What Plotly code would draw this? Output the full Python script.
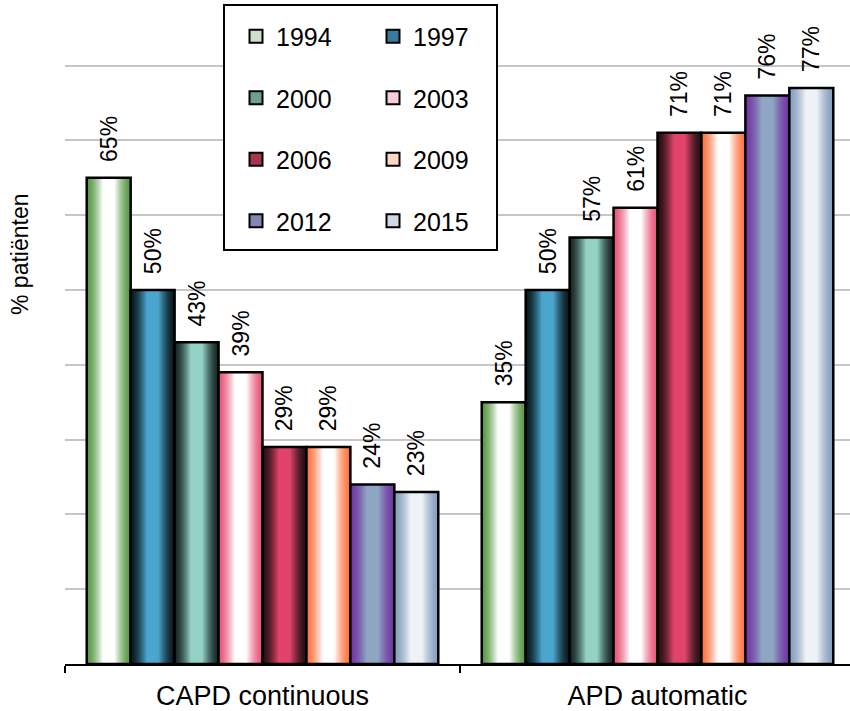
import plotly.graph_objects as go

# ---- data ----
categories = ["CAPD continuous", "APD automatic"]
years = ["1994", "1997", "2000", "2003", "2006", "2009", "2012", "2015"]
capd_values = [65, 50, 43, 39, 29, 29, 24, 23]
apd_values = [35, 50, 57, 61, 71, 71, 76, 77]
y_title = "% patiënten"

# ---- style ----
edge_colors = ["#5a9a47", "#0c1a20", "#182826", "#e8587a", "#261014", "#ff7440", "#7438a6", "#86a0be"]
center_colors = ["#ffffff", "#4aa6cf", "#93d2c5", "#ffffff", "#e0446a", "#ffffff", "#8ea6c2", "#eef2f6"]


def hex2rgb(h):
    h = h.lstrip("#")
    return tuple(int(h[i:i + 2], 16) for i in (0, 2, 4))


def lerp(c1, c2, f):
    a, b = hex2rgb(c1), hex2rgb(c2)
    return "rgb(%d,%d,%d)" % tuple(round(a[j] + (b[j] - a[j]) * f) for j in range(3))


group_w = 0.89
bw = group_w / len(years)
start = -group_w / 2
K = 22
RAMP = 0.36

fig = go.Figure()

for i, yr in enumerate(years):
    vals = [capd_values[i], apd_values[i]]
    base_off = start + i * bw
    for k in range(K):
        d = k / (2 * K)
        f = min(1.0, d / RAMP) ** 1.5
        inset = bw * d
        fig.add_trace(go.Bar(
            x=categories, y=vals,
            width=bw - 2 * inset, offset=base_off + inset,
            marker=dict(color=lerp(edge_colors[i], center_colors[i], f), line=dict(width=0)),
            showlegend=False, hoverinfo="skip",
        ))
        if f >= 1.0:
            break
    # outline + labels
    fig.add_trace(go.Bar(
        x=categories, y=vals, width=bw, offset=base_off,
        marker=dict(color="rgba(0,0,0,0)", line=dict(color="black", width=2.5)),
        text=["\u00a0\u00a0%d%%" % v for v in vals],
        textposition="outside", textangle=-90, constraintext="none",
        textfont=dict(size=23, color="black", family="Liberation Sans, Arial"),
        cliponaxis=False, showlegend=False, name=yr, hoverinfo="skip",
    ))

# legend entries (two columns -> two legends)
for i, yr in enumerate(years):
    fig.add_trace(go.Scatter(
        x=[None], y=[None], mode="markers", name=yr,
        marker=dict(symbol="square", size=13, color=lerp(edge_colors[i], center_colors[i], 0.7),
                    line=dict(color="black", width=2)),
        legend="legend" if i % 2 == 0 else "legend2",
        legendgroup=yr, showlegend=True,
    ))

L, R, T, B = 65, 0, 64, 47
W, H = 855, 711
pw, ph = W - L - R, H - T - B
YMAX = 80.2


def px(xp):
    return (xp - L) / pw


def py(yp):
    return (H - B - yp) / ph


legend_common = dict(
    font=dict(size=25, color="black", family="Liberation Sans, Arial"),
    bgcolor="rgba(0,0,0,0)", borderwidth=0, traceorder="grouped",
    tracegroupgap=26, xanchor="left", yanchor="top", orientation="v",
)

fig.update_layout(
    width=W, height=H,
    margin=dict(l=L, r=R, t=T, b=B, autoexpand=False),
    paper_bgcolor="white", plot_bgcolor="white",
    barmode="overlay",
    font=dict(family="Liberation Sans, Arial", color="black"),
    legend=dict(x=px(236), y=py(13.5), **legend_common),
    legend2=dict(x=px(373), y=py(13.5), **legend_common),
    xaxis=dict(
        type="category", showline=True, linecolor="black", linewidth=2,
        ticks="outside", tickson="boundaries", ticklen=7, tickwidth=2, tickcolor="black",
        ticklabelstandoff=7,
        tickfont=dict(size=27, color="black"), showgrid=False,
    ),
    yaxis=dict(
        range=[0, YMAX], dtick=10, tick0=0, showticklabels=False, showline=False, zeroline=False,
        showgrid=True, gridcolor="#c6c6c6", gridwidth=2, ticks="",
    ),
    shapes=[dict(
        type="rect", xref="paper", yref="paper",
        x0=px(224), x1=px(497), y0=py(250), y1=py(5),
        line=dict(color="black", width=2), fillcolor="white", layer="above",
    )],
    annotations=[dict(
        text=y_title, xref="paper", yref="paper", x=px(20), y=py(255),
        xanchor="center", yanchor="middle", textangle=-90, showarrow=False,
        font=dict(size=23, color="black"),
    )],
)

fig.write_html(
    "out.html", config={"displayModeBar": False},
    post_script=("document.body.style.margin='0';"
                 "document.body.style.overflow='hidden';"
                 "document.documentElement.style.overflow='hidden';"),
)
